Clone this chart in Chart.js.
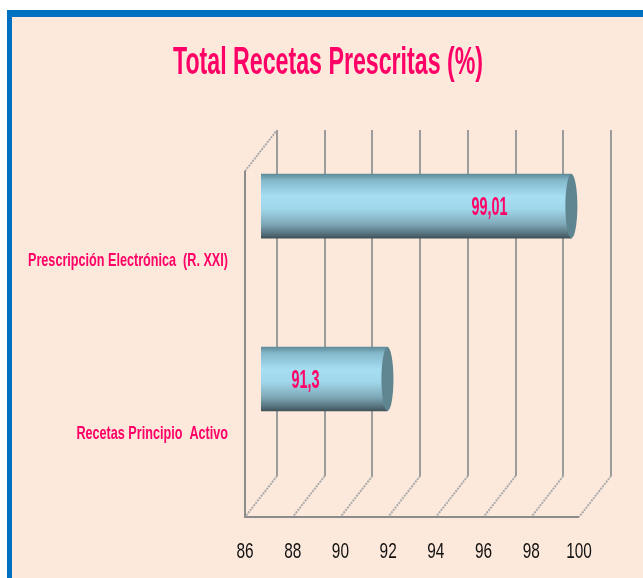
<!DOCTYPE html>
<html>
<head>
<meta charset="utf-8">
<script src="https://cdn.jsdelivr.net/npm/chart.js@4.4.1/dist/chart.umd.min.js"></script>
<style>
  html, body { margin: 0; padding: 0; background: #ffffff; }
  body { width: 643px; height: 578px; position: relative; overflow: hidden; }
  #frame {
    position: absolute; left: 7px; top: 10px; width: 700px; height: 640px;
    border-left: 5px solid #0070c0; border-top: 7px solid #0070c0;
    background: #fce9db;
  }
  #chart { position: absolute; left: 0; top: 0; }
</style>
</head>
<body>
<div id="frame"></div>
<canvas id="chart" width="643" height="578"></canvas>
<script>
// data
const categories = ['Prescripción Electrónica  (R. XXI)', 'Recetas Principio  Activo'];
const values = [99.01, 91.3];
const valueLabels = ['99,01', '91,3'];
const axisMin = 86;
const axisMax = 100;
const axisStep = 2;
const titleText = 'Total Recetas Prescritas (%)';

const FONT = "'Liberation Sans', Arial, sans-serif";
const PINK = '#ff0066';

// depth of the fake 3d box (half offsets)
const DX = 16;
const DY = 20.5;
const PLANE_SHIFT = 31;

// target widths used to squeeze the text like the condensed original
const TITLE_W = 310;
const TITLE_CX = 328;
const YLABEL_W = 200;
const VALUE_W = 36;
const XTICK_SX = 0.7;

function cylGrad(ctx, top, bottom) {
    const g = ctx.createLinearGradient(0, top, 0, bottom);
    g.addColorStop(0, '#5f8c9a');
    g.addColorStop(0.1, '#84b9cb');
    g.addColorStop(0.35, '#a6def2');
    g.addColorStop(0.55, '#a0d6ea');
    g.addColorStop(0.78, '#7fa9b8');
    g.addColorStop(0.92, '#5a7783');
    g.addColorStop(1, '#3e525a');
    return g;
}

function squeezeFor(ctx, font, text, target) {
    ctx.save();
    ctx.font = font;
    const w = ctx.measureText(text).width;
    ctx.restore();
    return w > 0 ? target / w : 1;
}

// run a chart.js draw call with every label squeezed horizontally around its anchor
function withSqueeze(ctx, sx, shift, fn) {
    const rotate = ctx.rotate;
    ctx.rotate = function (a) {
        rotate.call(this, a);
        this.translate(shift, 0);
        this.scale(sx, 1);
    };
    try { fn(); } finally { ctx.rotate = rotate; }
}

const boxPlugin = {
    id: 'box3d',
    beforeDatasetsDraw(chart) {
        const ctx = chart.ctx;
        const xs = chart.scales.x;
        const area = chart.chartArea;
        const backTop = area.top + PLANE_SHIFT - DY;
        const backBottom = area.bottom + PLANE_SHIFT - DY;
        const frontTop = area.top + PLANE_SHIFT + DY;
        const frontBottom = area.bottom + PLANE_SHIFT + DY;
        ctx.save();
        // back wall grid lines
        ctx.lineWidth = 2;
        ctx.strokeStyle = '#9c9c9c';
        for (let v = axisMin; v <= axisMax; v += axisStep) {
            const x = Math.round(xs.getPixelForValue(v) + DX);
            ctx.beginPath();
            ctx.moveTo(x, backTop);
            ctx.lineTo(x, backBottom);
            ctx.stroke();
        }
        // floor diagonals
        ctx.strokeStyle = '#ababab';
        ctx.setLineDash([2, 1]);
        for (let v = axisMin; v <= axisMax; v += axisStep) {
            const x = xs.getPixelForValue(v);
            ctx.beginPath();
            ctx.moveTo(x + DX, backBottom);
            ctx.lineTo(x - DX, frontBottom);
            ctx.stroke();
        }
        // left wall top edge
        const x0 = xs.getPixelForValue(axisMin);
        ctx.beginPath();
        ctx.moveTo(x0 - DX, frontTop);
        ctx.lineTo(x0 + DX, backTop);
        ctx.stroke();
        ctx.setLineDash([]);
        // left wall front edge + floor front edge
        ctx.strokeStyle = '#8c8c8c';
        ctx.beginPath();
        ctx.moveTo(Math.round(x0 - DX), frontTop);
        ctx.lineTo(Math.round(x0 - DX), frontBottom);
        ctx.lineTo(xs.getPixelForValue(axisMax) - DX, frontBottom);
        ctx.stroke();
        ctx.restore();
    },
    afterDatasetsDraw(chart) {
        const ctx = chart.ctx;
        const meta = chart.getDatasetMeta(0);
        const vfont = 'bold 25px ' + FONT;
        const sx = squeezeFor(ctx, vfont, valueLabels[0], VALUE_W);
        ctx.save();
        meta.data.forEach((bar, i) => {
            const h = bar.height;
            const top = bar.y - h / 2;
            // left cap
            ctx.beginPath();
            ctx.ellipse(bar.base, bar.y, 6, h / 2, 0, Math.PI / 2, Math.PI * 1.5);
            ctx.fillStyle = cylGrad(ctx, top, top + h);
            ctx.fill();
            // right cap
            ctx.beginPath();
            ctx.ellipse(bar.x, bar.y, 6, h / 2, 0, 0, Math.PI * 2);
            ctx.fillStyle = '#5e8590';
            ctx.fill();
            // value label
            ctx.save();
            ctx.translate(bar.x - 82, bar.y + 2);
            ctx.scale(sx, 1);
            ctx.fillStyle = PINK;
            ctx.font = vfont;
            ctx.textAlign = 'center';
            ctx.textBaseline = 'middle';
            ctx.fillText(valueLabels[i], 0, 0);
            ctx.restore();
        });
        ctx.restore();
    }
};

const chart = new Chart(document.getElementById('chart'), {
    type: 'bar',
    data: {
        labels: categories,
        datasets: [{
            data: values,
            barThickness: 64,
            borderWidth: 0,
            backgroundColor: (c) => {
                const ch = c.chart;
                if (!ch.chartArea || !ch.scales.y) return '#9fd5e8';
                const yc = ch.scales.y.getPixelForValue(c.dataIndex);
                return cylGrad(ch.ctx, yc - 32, yc + 32);
            }
        }]
    },
    options: {
        indexAxis: 'y',
        responsive: false,
        animation: false,
        devicePixelRatio: 1,
        layout: { padding: { left: 0, right: 48, top: 0, bottom: 0 } },
        plugins: {
            legend: { display: false },
            tooltip: { enabled: false },
            title: {
                display: true,
                text: titleText,
                color: PINK,
                font: { family: FONT, size: 38, weight: 'bold', lineHeight: 1.2 },
                padding: { top: 41, bottom: 33 }
            }
        },
        scales: {
            x: {
                min: axisMin,
                max: axisMax,
                grid: { display: false, drawTicks: false },
                border: { display: false },
                ticks: {
                    stepSize: axisStep,
                    color: '#111111',
                    font: { family: FONT, size: 22 },
                    padding: 73,
                    labelOffset: -DX,
                    maxRotation: 0,
                    autoSkip: false
                },
                afterFit(scale) {
                    scale.height = 578 - 465.5;
                    scale.paddingLeft = 0;
                    scale.paddingRight = 0;
                }
            },
            y: {
                grid: { display: false, drawTicks: false },
                border: { display: false },
                ticks: {
                    color: PINK,
                    font: { family: FONT, size: 19, weight: 'bold' },
                    padding: 33,
                    labelOffset: 55
                },
                afterFit(scale) {
                    scale.width = 261;
                    scale.paddingTop = 0;
                    scale.paddingBottom = 0;
                }
            }
        }
    },
    plugins: [boxPlugin]
});

// condensed look for the title, category labels and tick labels
const tb = chart.titleBlock;
const titleDraw = tb.draw;
tb.draw = function () {
    const sx = squeezeFor(this.ctx, 'bold 38px ' + FONT, titleText, TITLE_W);
    const shift = TITLE_CX - (this.left + this.right) / 2;
    withSqueeze(this.ctx, sx, shift, () => titleDraw.apply(this, arguments));
};
const ys = chart.scales.y;
const yLabelsDraw = ys.drawLabels;
ys.drawLabels = function () {
    const sx = squeezeFor(this.ctx, 'bold 19px ' + FONT, categories[0], YLABEL_W);
    withSqueeze(this.ctx, sx, 0, () => yLabelsDraw.apply(this, arguments));
};
const xs = chart.scales.x;
const xLabelsDraw = xs.drawLabels;
xs.drawLabels = function () {
    withSqueeze(this.ctx, XTICK_SX, 0, () => xLabelsDraw.apply(this, arguments));
};
chart.draw();
</script>
</body>
</html>
